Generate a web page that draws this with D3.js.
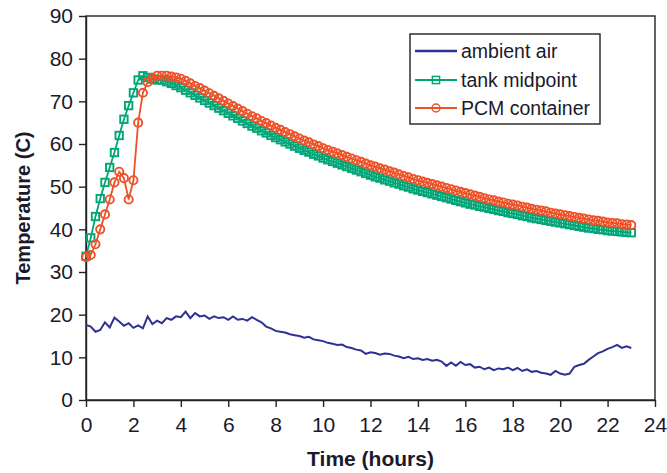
<!DOCTYPE html>
<html>
<head>
<meta charset="utf-8">
<script src="https://cdn.jsdelivr.net/npm/d3@7"></script>
<style>
  body { margin: 0; background: #fff; }
  text { font-family: "Liberation Sans", Arial, sans-serif; fill: #1a1a2a; }
</style>
</head>
<body>
<div id="chart"></div>
<script>
// readings every 0.2 h, from 0 to 23 h
const step = 0.2;

const ambientAir = [
  17.6, 17.2, 16.0, 16.4, 18.2, 17.0, 19.3, 18.4, 17.4, 18.0,
  16.9, 17.5, 16.8, 19.6, 17.8, 18.6, 18.0, 19.2, 18.8, 19.6,
  19.4, 20.7, 19.2, 20.4, 19.6, 19.8, 19.0, 19.6, 19.2, 19.4,
  18.8, 19.6, 18.8, 19.0, 18.6, 19.4, 18.8, 18.2, 17.2, 16.8,
  16.2, 16.0, 15.8, 15.4, 15.2, 15.0, 14.6, 14.8, 14.2, 14.0,
  13.8, 13.4, 13.2, 12.9, 13.0, 12.4, 12.2, 11.8, 11.6, 10.8,
  11.2, 11.0, 10.6, 10.9, 10.8, 10.4, 10.2, 9.8, 10.1, 9.6,
  9.8, 9.4, 9.6, 9.2, 9.4, 9.0, 8.0, 8.8, 8.0, 8.9,
  8.2, 8.4, 7.6, 7.8, 7.2, 7.6, 7.0, 7.4, 7.2, 7.6,
  7.0, 7.5, 6.8, 7.2, 6.6, 6.8, 6.4, 6.2, 5.9, 6.8,
  6.2, 5.9, 6.2, 7.8, 8.2, 8.5, 9.4, 10.2, 11.0, 11.4,
  12.0, 12.4, 12.9, 12.2, 12.6, 12.2
];

const tankMidpoint = [
  33.7, 38.0, 43.0, 47.2, 51.0, 54.5, 58.0, 62.0, 65.8, 69.0,
  72.0, 75.0, 76.0, 75.6, 75.2, 75.0, 75.0, 74.6, 74.2, 73.7,
  73.2, 72.6, 72.0, 71.4, 70.8, 70.2, 69.6, 69.0, 68.4, 67.8,
  67.2, 66.6, 66.0, 65.4, 64.8, 64.2, 63.7, 63.1, 62.6, 62.0,
  61.5, 61.0, 60.5, 60.0, 59.5, 59.0, 58.5, 58.1, 57.6, 57.2,
  56.7, 56.3, 55.9, 55.5, 55.1, 54.7, 54.3, 53.9, 53.5, 53.1,
  52.7, 52.3, 52.0, 51.6, 51.3, 50.9, 50.6, 50.2, 49.9, 49.5,
  49.2, 48.9, 48.6, 48.3, 48.0, 47.7, 47.4, 47.1, 46.8, 46.5,
  46.2, 45.9, 45.7, 45.4, 45.2, 44.9, 44.7, 44.4, 44.2, 43.9,
  43.7, 43.5, 43.2, 43.0, 42.7, 42.5, 42.3, 42.1, 41.9, 41.7,
  41.5, 41.3, 41.1, 40.9, 40.7, 40.5, 40.3, 40.2, 40.0, 39.9,
  39.7, 39.6, 39.5, 39.4, 39.3, 39.2
];

const pcmContainer = [
  33.5, 34.0, 36.5, 40.0, 43.5, 47.0, 51.0, 53.5, 52.0, 47.0,
  51.5, 65.0, 72.0, 74.5, 75.5, 76.0, 76.0, 76.0, 75.8, 75.6,
  75.3, 74.8, 74.2, 73.6, 73.1, 72.5, 71.9, 71.3, 70.7, 70.1,
  69.5, 68.9, 68.3, 67.7, 67.1, 66.5, 66.0, 65.4, 64.9, 64.3,
  63.8, 63.3, 62.8, 62.3, 61.8, 61.3, 60.8, 60.4, 59.9, 59.5,
  59.0, 58.6, 58.2, 57.8, 57.4, 57.0, 56.6, 56.2, 55.8, 55.4,
  55.0, 54.7, 54.3, 54.0, 53.6, 53.3, 52.9, 52.5, 52.2, 51.8,
  51.5, 51.2, 50.9, 50.6, 50.3, 50.0, 49.7, 49.4, 49.1, 48.8,
  48.5, 48.2, 47.9, 47.6, 47.3, 47.0, 46.8, 46.5, 46.3, 46.0,
  45.8, 45.6, 45.3, 45.1, 44.8, 44.6, 44.4, 44.2, 43.9, 43.7,
  43.5, 43.3, 43.1, 42.9, 42.7, 42.5, 42.3, 42.1, 42.0, 41.8,
  41.6, 41.5, 41.4, 41.2, 41.1, 41.0
];

const hours = ambientAir.map((_, i) => +(i * step).toFixed(1));
const xTicks = [0, 2, 4, 6, 8, 10, 12, 14, 16, 18, 20, 22, 24];
const yTicks = [0, 10, 20, 30, 40, 50, 60, 70, 80, 90];
const seriesNames = ["ambient air", "tank midpoint", "PCM container"];
const seriesColors = ["#2e3192", "#00a676", "#ee5128"];

const width = 667, height = 473;
const margin = { top: 16, right: 12, bottom: 73, left: 86 };
const innerW = width - margin.left - margin.right;
const innerH = height - margin.top - margin.bottom;

const svg = d3.select("#chart")
  .append("svg")
  .attr("width", width)
  .attr("height", height);

const g = svg.append("g")
  .attr("transform", `translate(${margin.left},${margin.top})`);

const x = d3.scaleLinear().domain([0, 24]).range([0, innerW]);
const y = d3.scaleLinear().domain([0, 90]).range([innerH, 0]);

// frame
g.append("rect")
  .attr("width", innerW)
  .attr("height", innerH)
  .attr("fill", "none")
  .attr("stroke", "#222")
  .attr("stroke-width", 1.4);

// axes
const yAxis = g.append("g")
  .call(d3.axisLeft(y).tickValues(yTicks).tickSize(7).tickSizeOuter(0).tickPadding(6));
const xAxis = g.append("g")
  .attr("transform", `translate(0,${innerH})`)
  .call(d3.axisBottom(x).tickValues(xTicks).tickSize(7).tickSizeOuter(0).tickPadding(10));

[xAxis, yAxis].forEach(a => {
  a.select(".domain").attr("stroke", "#222").attr("stroke-width", 1.4);
  a.selectAll(".tick line").attr("stroke", "#222").attr("stroke-width", 1.4);
  a.selectAll(".tick text").style("font-size", "21px").attr("fill", "#1a1a2a");
});

// series
const line = d3.line()
  .x((d, i) => x(hours[i]))
  .y(d => y(d));

g.append("path")
  .datum(ambientAir)
  .attr("d", line)
  .attr("fill", "none")
  .attr("stroke", seriesColors[0])
  .attr("stroke-width", 2);

g.append("path")
  .datum(tankMidpoint)
  .attr("d", line)
  .attr("fill", "none")
  .attr("stroke", seriesColors[1])
  .attr("stroke-width", 1.8);

g.selectAll(".sq")
  .data(tankMidpoint)
  .join("rect")
  .attr("class", "sq")
  .attr("x", (d, i) => x(hours[i]) - 3.7)
  .attr("y", d => y(d) - 3.7)
  .attr("width", 7.4)
  .attr("height", 7.4)
  .attr("fill", "none")
  .attr("stroke", seriesColors[1])
  .attr("stroke-width", 1.9);

g.append("path")
  .datum(pcmContainer)
  .attr("d", line)
  .attr("fill", "none")
  .attr("stroke", seriesColors[2])
  .attr("stroke-width", 1.8);

g.selectAll(".ci")
  .data(pcmContainer)
  .join("circle")
  .attr("class", "ci")
  .attr("cx", (d, i) => x(hours[i]))
  .attr("cy", d => y(d))
  .attr("r", 4.1)
  .attr("fill", "none")
  .attr("stroke", seriesColors[2])
  .attr("stroke-width", 1.9);

// axis titles
svg.append("text")
  .attr("x", margin.left + innerW / 2)
  .attr("y", 466)
  .attr("text-anchor", "middle")
  .style("font-size", "21px")
  .style("font-weight", "bold")
  .text("Time (hours)");

svg.append("text")
  .attr("transform", `translate(30,${margin.top + innerH / 2}) rotate(-90)`)
  .attr("text-anchor", "middle")
  .style("font-size", "20px")
  .style("font-weight", "bold")
  .text("Temperature (C)");

// legend
const legend = svg.append("g");
legend.append("rect")
  .attr("x", 410).attr("y", 34)
  .attr("width", 190).attr("height", 90)
  .attr("fill", "#fff")
  .attr("stroke", "#222")
  .attr("stroke-width", 1.4);

const rowY = [51, 80, 108];
seriesNames.forEach((name, i) => {
  const row = legend.append("g").attr("transform", `translate(0,${rowY[i]})`);
  row.append("line")
    .attr("x1", 415).attr("x2", 457)
    .attr("stroke", seriesColors[i])
    .attr("stroke-width", i === 0 ? 2.4 : 2);
  if (i === 1) {
    row.append("rect")
      .attr("x", 436 - 3.6).attr("y", -3.6)
      .attr("width", 7.2).attr("height", 7.2)
      .attr("fill", "none")
      .attr("stroke", seriesColors[1]).attr("stroke-width", 1.5);
  }
  if (i === 2) {
    row.append("circle")
      .attr("cx", 436).attr("r", 4)
      .attr("fill", "none")
      .attr("stroke", seriesColors[2]).attr("stroke-width", 1.5);
  }
  row.append("text")
    .attr("x", 461)
    .attr("dy", "0.35em")
    .style("font-size", "19.5px")
    .text(name);
});
</script>
</body>
</html>
